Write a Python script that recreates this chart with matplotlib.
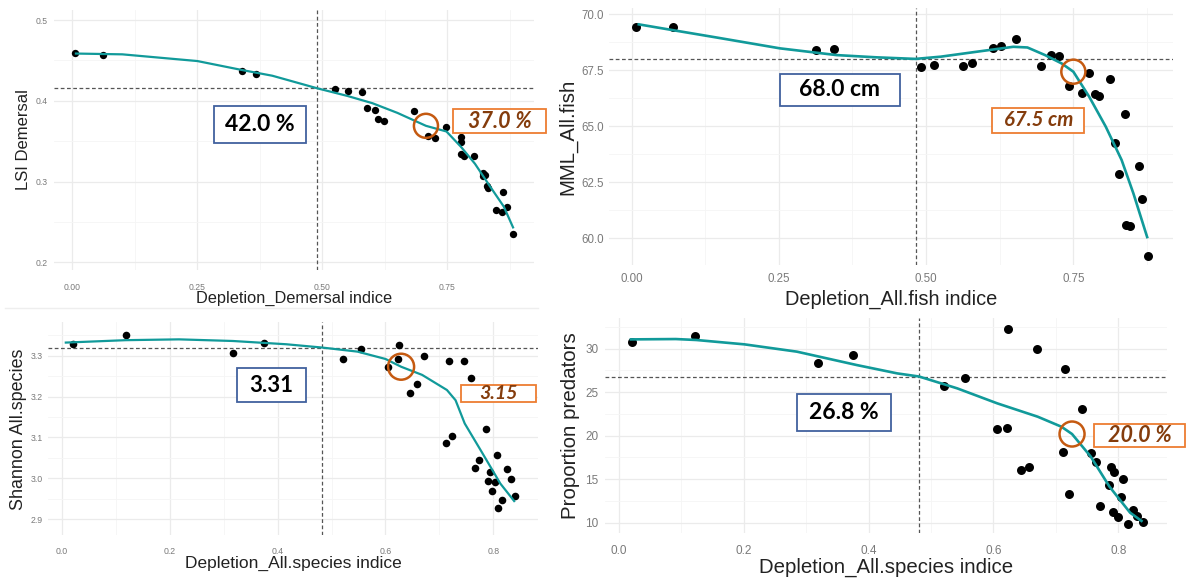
import matplotlib
matplotlib.use("Agg")
import matplotlib.pyplot as plt
from matplotlib.patches import Rectangle
from matplotlib.lines import Line2D

W, H = 1186, 579

# ---- panel 1: LSI Demersal ----
p1_x = [0.005, 0.061, 0.339, 0.367, 0.526, 0.551, 0.580, 0.589, 0.605, 0.612, 0.624, 0.684,
        0.711, 0.725, 0.748, 0.777, 0.778, 0.777, 0.784, 0.803, 0.821, 0.825, 0.821, 0.830,
        0.832, 0.861, 0.847, 0.859, 0.870, 0.882]
p1_y = [0.4596, 0.4567, 0.4373, 0.4336, 0.4146, 0.412, 0.4108, 0.3915, 0.389, 0.377, 0.3745, 0.387,
        0.357, 0.3535, 0.368, 0.3547, 0.349, 0.3337, 0.332, 0.332, 0.310, 0.308, 0.307, 0.295,
        0.2916, 0.2866, 0.265, 0.2627, 0.269, 0.2346]
p1_fit_x = [0.005, 0.1, 0.25, 0.34, 0.4, 0.49, 0.55, 0.6, 0.65, 0.707, 0.748, 0.777, 0.805, 0.834, 0.8626, 0.882]
p1_fit_y = [0.4585, 0.4575, 0.4492, 0.438, 0.431, 0.4154, 0.406, 0.397, 0.385, 0.369, 0.362, 0.343, 0.322, 0.295, 0.269, 0.242]
p1_ref = (0.490, 0.4154)
p1_thr = (0.707, 0.369)

# ---- panel 2: MML All.fish ----
p2_x = [0.0068, 0.070, 0.3136, 0.343, 0.492, 0.514, 0.563, 0.578, 0.614, 0.627, 0.652, 0.695,
        0.712, 0.726, 0.742, 0.765, 0.777, 0.787, 0.794, 0.813, 0.820, 0.837, 0.828, 0.839,
        0.847, 0.861, 0.867, 0.876]
p2_y = [69.41, 69.41, 68.395, 68.425, 67.62, 67.73, 67.68, 67.83, 68.47, 68.57, 68.87, 67.68,
        68.17, 68.14, 66.79, 66.49, 67.38, 66.42, 66.36, 67.12, 64.26, 65.53, 62.87, 60.59,
        60.55, 63.24, 61.74, 59.23]
p2_fit_x = [0.010, 0.075, 0.143, 0.252, 0.348, 0.416, 0.482, 0.525, 0.586, 0.648, 0.672, 0.702,
            0.730, 0.750, 0.777, 0.805, 0.832, 0.852, 0.876]
p2_fit_y = [69.55, 69.26, 68.96, 68.47, 68.17, 68.07, 68.0, 68.10, 68.32, 68.54, 68.51, 68.17,
            67.80, 67.43, 66.31, 64.98, 63.49, 62.0, 60.0]
p2_ref = (0.482, 68.0)
p2_thr = (0.750, 67.43)

# ---- panel 3: Shannon All.species ----
p3_x = [0.0199, 0.119, 0.318, 0.375, 0.522, 0.554, 0.605, 0.623, 0.625, 0.646, 0.658, 0.672,
        0.712, 0.724, 0.718, 0.745, 0.758, 0.766, 0.774, 0.787, 0.791, 0.793, 0.797, 0.803,
        0.806, 0.808, 0.817, 0.825, 0.832, 0.841]
p3_y = [3.3278, 3.350, 3.307, 3.330, 3.292, 3.3155, 3.273, 3.293, 3.326, 3.208, 3.230, 3.299,
        3.087, 3.104, 3.287, 3.287, 3.246, 3.024, 3.044, 3.120, 2.994, 3.016, 2.969, 2.990,
        3.057, 2.926, 2.946, 3.022, 2.998, 2.957]
p3_fit_x = [0.005, 0.118, 0.217, 0.317, 0.416, 0.482, 0.548, 0.600, 0.629, 0.668, 0.714, 0.730,
            0.747, 0.780, 0.813, 0.840]
p3_fit_y = [3.332, 3.338, 3.340, 3.336, 3.328, 3.320, 3.310, 3.292, 3.273, 3.253, 3.216, 3.191,
            3.134, 3.061, 2.987, 2.942]
p3_ref = (0.482, 3.320)
p3_thr = (0.629, 3.273)

# ---- panel 4: Proportion predators ----
p4_x = [0.0206, 0.122, 0.319, 0.375, 0.521, 0.554, 0.606, 0.622, 0.623, 0.645, 0.657, 0.670,
        0.711, 0.715, 0.721, 0.742, 0.757, 0.765, 0.771, 0.786, 0.789, 0.794, 0.792, 0.800,
        0.805, 0.808, 0.816, 0.824, 0.830, 0.840]
p4_y = [30.80, 31.46, 28.39, 29.27, 25.75, 26.59, 20.73, 20.84, 32.22, 16.06, 16.36, 29.92,
        18.16, 27.66, 13.30, 23.07, 17.97, 17.01, 11.95, 14.33, 16.44, 15.86, 11.26, 10.69,
        13.0, 14.98, 9.81, 11.46, 10.77, 10.04]
p4_fit_x = [0.017, 0.091, 0.124, 0.201, 0.285, 0.381, 0.446, 0.481, 0.542, 0.606, 0.671, 0.709,
            0.726, 0.756, 0.786, 0.819, 0.839]
p4_fit_y = [31.07, 31.11, 31.0, 30.5, 29.66, 28.12, 27.16, 26.8, 25.44, 23.72, 22.18, 21.03,
            20.19, 17.59, 14.14, 11.15, 10.11]
p4_ref = (0.481, 26.8)
p4_thr = (0.726, 20.19)

TEAL = "#119A9A"
CIRC = "#C55A11"
OBOX = "#ED7D31"
OTXT = "#843C0C"
BBOX = "#41619E"

plt.rcParams["font.family"] = ["Liberation Sans", "DejaVu Sans"]

fig = plt.figure(figsize=(W / 100, H / 100), dpi=100)
fig.patch.set_facecolor("white")


def px_axes(x0, y0, x1, y1):
    return fig.add_axes([x0 / W, 1 - y1 / H, (x1 - x0) / W, (y1 - y0) / H])


def panel(rect, xs, ys, fx, fy, ref, thr, xlim, ylim, xmaj, xmin, ymaj, ymin,
          xfmt, yfmt, tick_fs, pads, dot_s, lw, circ_s):
    ax = px_axes(*rect)
    ax.set_xlim(*xlim)
    ax.set_ylim(*ylim)
    ax.set_xticks(xmaj)
    ax.set_xticks(xmin, minor=True)
    ax.set_yticks(ymaj)
    ax.set_yticks(ymin, minor=True)
    ax.set_xticklabels([xfmt.format(v) for v in xmaj])
    ax.set_yticklabels([yfmt.format(v) for v in ymaj])
    ax.grid(True, which="major", color="#EBEBEB", lw=0.9)
    ax.grid(True, which="minor", color="#F5F5F5", lw=0.6)
    ax.set_axisbelow(True)
    for s in ax.spines.values():
        s.set_visible(False)
    ax.tick_params(which="both", length=0, labelsize=tick_fs, labelcolor="#7A7A7A")
    ax.tick_params(axis="x", pad=pads[0])
    ax.tick_params(axis="y", pad=pads[1])
    ax.axvline(ref[0], color="#555555", lw=0.9, ls=(0, (3, 2)), zorder=2)
    ax.axhline(ref[1], color="#555555", lw=0.9, ls=(0, (3, 2)), zorder=2)
    ax.scatter(xs, ys, s=dot_s, color="black", zorder=3, linewidths=0)
    ax.plot(fx, fy, color=TEAL, lw=lw, zorder=4, solid_capstyle="butt")
    ax.scatter([thr[0]], [thr[1]], s=circ_s, facecolors="none", edgecolors=CIRC,
               linewidths=1.8, zorder=5)
    return ax


panel((53.6, 10, 534, 270), p1_x, p1_y, p1_fit_x, p1_fit_y, p1_ref, p1_thr,
      (-0.0374, 0.923), (0.1905, 0.5124),
      [0, 0.25, 0.5, 0.75], [0.125, 0.375, 0.625, 0.875],
      [0.2, 0.3, 0.4, 0.5], [0.25, 0.35, 0.45],
      "{:.2f}", "{:.1f}", 6.2, (9, 4), 28, 1.6, 300)

panel((609.3, 8, 1172.7, 265), p2_x, p2_y, p2_fit_x, p2_fit_y, p2_ref, p2_thr,
      (-0.0379, 0.9187), (58.81, 70.27),
      [0, 0.25, 0.5, 0.75], [0.125, 0.375, 0.625, 0.875],
      [60, 62.5, 65, 67.5, 70], [61.25, 63.75, 66.25, 68.75],
      "{:.2f}", "{:.1f}", 8.3, (6, 4), 42, 1.9, 300)

panel((48.2, 322, 537.5, 535), p3_x, p3_y, p3_fit_x, p3_fit_y, p3_ref, p3_thr,
      (-0.0256, 0.882), (2.861, 3.3825),
      [0, 0.2, 0.4, 0.6, 0.8], [0.1, 0.3, 0.5, 0.7],
      [2.9, 3.0, 3.1, 3.2, 3.3], [2.95, 3.05, 3.15, 3.25, 3.35],
      "{:.1f}", "{:.1f}", 6.3, (9, 4), 30, 1.6, 350)

panel((605.3, 318, 1166.7, 533), p4_x, p4_y, p4_fit_x, p4_fit_y, p4_ref, p4_thr,
      (-0.022, 0.8777), (8.81, 33.53),
      [0, 0.2, 0.4, 0.6, 0.8], [0.1, 0.3, 0.5, 0.7],
      [10, 15, 20, 25, 30], [12.5, 17.5, 22.5, 27.5, 32.5],
      "{:.1f}", "{:.0f}", 8.5, (9, 5), 42, 1.9, 324)


def ftext(x, y, s, **kw):
    fig.text(x / W, 1 - y / H, s, ha="center", va="center", **kw)


# axis titles
ftext(293.8, 298, "Depletion_Demersal indice", fontsize=11.8, color="#222222")
ftext(891, 299, "Depletion_All.fish indice", fontsize=14.4, color="#222222")
ftext(292.9, 563, "Depletion_All.species indice", fontsize=12.5, color="#222222")
ftext(886, 567, "Depletion_All.species indice", fontsize=14.7, color="#222222")
ftext(24, 140, "LSI Demersal", fontsize=12, color="#222222", rotation=90)
ftext(567.5, 137, "MML_All.fish", fontsize=14.7, color="#222222", rotation=90)
ftext(18.6, 429, "Shannon All.species", fontsize=12.9, color="#222222", rotation=90)
ftext(571, 426, "Proportion predators", fontsize=14.8, color="#222222", rotation=90)

# faint separator between rows
fig.add_artist(Line2D([5 / W, 538 / W], [1 - 308 / H, 1 - 308 / H], color="#EEEEEE", lw=1))


def box(x0, y0, x1, y1, s, edge, color, fs, italic):
    fig.add_artist(Rectangle((x0 / W, 1 - y1 / H), (x1 - x0) / W, (y1 - y0) / H,
                             transform=fig.transFigure, facecolor="white",
                             edgecolor=edge, lw=1.3, zorder=10))
    t = fig.text((x0 + x1) / 2 / W, 1 - (y0 + y1) / 2 / H, s, ha="center", va="center",
                 fontsize=fs, fontweight="bold", color=color,
                 style="italic" if italic else "normal",
                 family=["Lato", "DejaVu Sans"], zorder=11)
    return t


box(214, 106, 306, 143, "42.0 %", BBOX, "black", 16.5, False)
box(453, 109, 546, 133, "37.0 %", OBOX, OTXT, 15.5, True)
box(779.5, 74, 900.3, 106, "68.0 cm", BBOX, "black", 16.5, False)
box(992.4, 108, 1084.2, 133, "67.5 cm", OBOX, OTXT, 14.7, True)
box(236.8, 368, 306.4, 402, "3.31", BBOX, "black", 16, False)
box(461.4, 385, 535.7, 402, "3.15", OBOX, OTXT, 14, True)
box(797.3, 394, 891, 431, "26.8 %", BBOX, "black", 16.5, False)
box(1094.2, 424, 1184.8, 447, "20.0 %", OBOX, OTXT, 15.5, True)

fig.savefig("out.png", dpi=100, facecolor="white")
